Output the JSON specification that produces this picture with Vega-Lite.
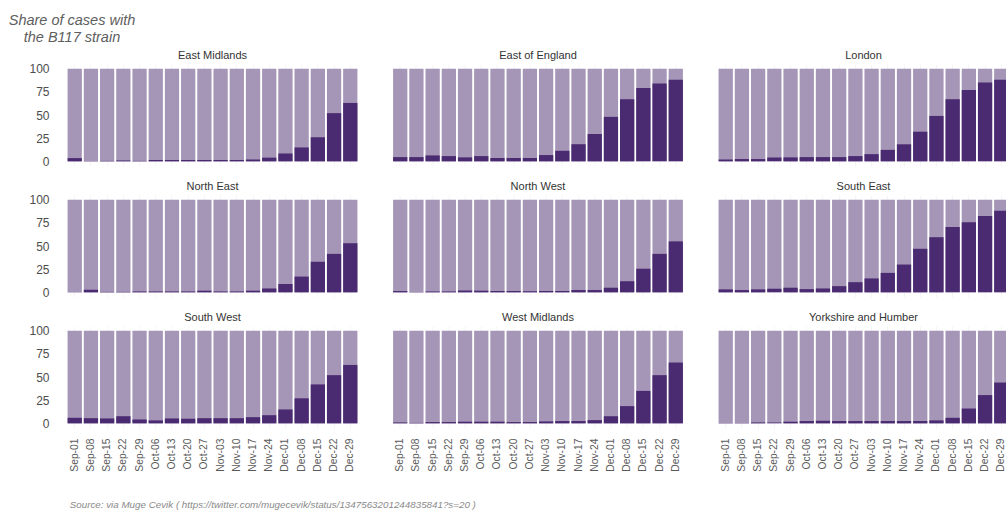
{
  "$schema": "https://vega.github.io/schema/vega-lite/v6.json",
  "padding": {"left": 8, "top": 12, "right": 0, "bottom": 0},
  "background": "white",
  "config": {
    "font": "Liberation Sans",
    "view": {"stroke": null},
    "axis": {"domain": false, "ticks": false, "title": null, "labelFont": "Liberation Sans", "labelColor": "#4d4d4d"},
    "header": {"labelFont": "Liberation Sans", "labelFontSize": 11, "labelColor": "#333333", "labelPadding": 3, "title": null}
  },
  "title": {
    "text": "Source: via Muge Cevik ( https://twitter.com/mugecevik/status/1347563201244835841?s=20 )",
    "orient": "bottom", "anchor": "start", "dx": 61, "offset": 29,
    "fontSize": 9.8, "fontStyle": "italic", "fontWeight": "normal", "color": "#8a8a8a", "font": "Liberation Sans"
  },
  "data": {"values": [
    {"region":"East Midlands","week":"Sep-01","share":3.5},{"region":"East Midlands","week":"Sep-08","share":0.3},{"region":"East Midlands","week":"Sep-15","share":0.5},{"region":"East Midlands","week":"Sep-22","share":1},{"region":"East Midlands","week":"Sep-29","share":0.5},{"region":"East Midlands","week":"Oct-06","share":1.5},{"region":"East Midlands","week":"Oct-13","share":1.5},{"region":"East Midlands","week":"Oct-20","share":1.5},{"region":"East Midlands","week":"Oct-27","share":1.5},{"region":"East Midlands","week":"Nov-03","share":1.5},{"region":"East Midlands","week":"Nov-10","share":1.5},{"region":"East Midlands","week":"Nov-17","share":2},{"region":"East Midlands","week":"Nov-24","share":4},{"region":"East Midlands","week":"Dec-01","share":8.5},{"region":"East Midlands","week":"Dec-08","share":15},{"region":"East Midlands","week":"Dec-15","share":26},{"region":"East Midlands","week":"Dec-22","share":52},{"region":"East Midlands","week":"Dec-29","share":63},
    {"region":"East of England","week":"Sep-01","share":4.6},{"region":"East of England","week":"Sep-08","share":4.6},{"region":"East of England","week":"Sep-15","share":6.4},{"region":"East of England","week":"Sep-22","share":5.7},{"region":"East of England","week":"Sep-29","share":4.3},{"region":"East of England","week":"Oct-06","share":5.7},{"region":"East of England","week":"Oct-13","share":3.6},{"region":"East of England","week":"Oct-20","share":3.6},{"region":"East of England","week":"Oct-27","share":3.6},{"region":"East of England","week":"Nov-03","share":6.8},{"region":"East of England","week":"Nov-10","share":11.4},{"region":"East of England","week":"Nov-17","share":18.5},{"region":"East of England","week":"Nov-24","share":29.5},{"region":"East of England","week":"Dec-01","share":48},{"region":"East of England","week":"Dec-08","share":67},{"region":"East of England","week":"Dec-15","share":79},{"region":"East of England","week":"Dec-22","share":84},{"region":"East of England","week":"Dec-29","share":88},
    {"region":"London","week":"Sep-01","share":2},{"region":"London","week":"Sep-08","share":2.5},{"region":"London","week":"Sep-15","share":2.5},{"region":"London","week":"Sep-22","share":4.3},{"region":"London","week":"Sep-29","share":4.3},{"region":"London","week":"Oct-06","share":4.6},{"region":"London","week":"Oct-13","share":4.6},{"region":"London","week":"Oct-20","share":4.6},{"region":"London","week":"Oct-27","share":5.7},{"region":"London","week":"Nov-03","share":7.8},{"region":"London","week":"Nov-10","share":12.4},{"region":"London","week":"Nov-17","share":18.4},{"region":"London","week":"Nov-24","share":32},{"region":"London","week":"Dec-01","share":49},{"region":"London","week":"Dec-08","share":67},{"region":"London","week":"Dec-15","share":77},{"region":"London","week":"Dec-22","share":85},{"region":"London","week":"Dec-29","share":88},
    {"region":"North East","week":"Sep-01","share":0.2},{"region":"North East","week":"Sep-08","share":2.8},{"region":"North East","week":"Sep-15","share":0.5},{"region":"North East","week":"Sep-22","share":0.5},{"region":"North East","week":"Sep-29","share":1},{"region":"North East","week":"Oct-06","share":1},{"region":"North East","week":"Oct-13","share":1},{"region":"North East","week":"Oct-20","share":1},{"region":"North East","week":"Oct-27","share":1.8},{"region":"North East","week":"Nov-03","share":1},{"region":"North East","week":"Nov-10","share":1},{"region":"North East","week":"Nov-17","share":1.8},{"region":"North East","week":"Nov-24","share":4.2},{"region":"North East","week":"Dec-01","share":9},{"region":"North East","week":"Dec-08","share":17},{"region":"North East","week":"Dec-15","share":33},{"region":"North East","week":"Dec-22","share":41.5},{"region":"North East","week":"Dec-29","share":53},
    {"region":"North West","week":"Sep-01","share":1.4},{"region":"North West","week":"Sep-08","share":0.3},{"region":"North West","week":"Sep-15","share":1},{"region":"North West","week":"Sep-22","share":1},{"region":"North West","week":"Sep-29","share":2},{"region":"North West","week":"Oct-06","share":1.8},{"region":"North West","week":"Oct-13","share":1.5},{"region":"North West","week":"Oct-20","share":1.5},{"region":"North West","week":"Oct-27","share":1.2},{"region":"North West","week":"Nov-03","share":1.5},{"region":"North West","week":"Nov-10","share":1.5},{"region":"North West","week":"Nov-17","share":2.5},{"region":"North West","week":"Nov-24","share":2.5},{"region":"North West","week":"Dec-01","share":5},{"region":"North West","week":"Dec-08","share":12},{"region":"North West","week":"Dec-15","share":25.5},{"region":"North West","week":"Dec-22","share":41.5},{"region":"North West","week":"Dec-29","share":55},
    {"region":"South East","week":"Sep-01","share":3.2},{"region":"South East","week":"Sep-08","share":2.5},{"region":"South East","week":"Sep-15","share":3.2},{"region":"South East","week":"Sep-22","share":3.9},{"region":"South East","week":"Sep-29","share":5},{"region":"South East","week":"Oct-06","share":3.5},{"region":"South East","week":"Oct-13","share":4.2},{"region":"South East","week":"Oct-20","share":6.7},{"region":"South East","week":"Oct-27","share":11},{"region":"South East","week":"Nov-03","share":15},{"region":"South East","week":"Nov-10","share":21},{"region":"South East","week":"Nov-17","share":30},{"region":"South East","week":"Nov-24","share":47},{"region":"South East","week":"Dec-01","share":59.5},{"region":"South East","week":"Dec-08","share":70.5},{"region":"South East","week":"Dec-15","share":75.5},{"region":"South East","week":"Dec-22","share":82.3},{"region":"South East","week":"Dec-29","share":88},
    {"region":"South West","week":"Sep-01","share":6},{"region":"South West","week":"Sep-08","share":5.6},{"region":"South West","week":"Sep-15","share":5.3},{"region":"South West","week":"Sep-22","share":7.7},{"region":"South West","week":"Sep-29","share":4.2},{"region":"South West","week":"Oct-06","share":3.2},{"region":"South West","week":"Oct-13","share":5.3},{"region":"South West","week":"Oct-20","share":5},{"region":"South West","week":"Oct-27","share":5.6},{"region":"South West","week":"Nov-03","share":5.6},{"region":"South West","week":"Nov-10","share":5.6},{"region":"South West","week":"Nov-17","share":6.7},{"region":"South West","week":"Nov-24","share":8.8},{"region":"South West","week":"Dec-01","share":15},{"region":"South West","week":"Dec-08","share":27},{"region":"South West","week":"Dec-15","share":42},{"region":"South West","week":"Dec-22","share":52},{"region":"South West","week":"Dec-29","share":63},
    {"region":"West Midlands","week":"Sep-01","share":1},{"region":"West Midlands","week":"Sep-08","share":0.5},{"region":"West Midlands","week":"Sep-15","share":1.4},{"region":"West Midlands","week":"Sep-22","share":1.4},{"region":"West Midlands","week":"Sep-29","share":1.8},{"region":"West Midlands","week":"Oct-06","share":1.8},{"region":"West Midlands","week":"Oct-13","share":1.8},{"region":"West Midlands","week":"Oct-20","share":1.4},{"region":"West Midlands","week":"Oct-27","share":1.4},{"region":"West Midlands","week":"Nov-03","share":2.1},{"region":"West Midlands","week":"Nov-10","share":2.5},{"region":"West Midlands","week":"Nov-17","share":2.5},{"region":"West Midlands","week":"Nov-24","share":3.5},{"region":"West Midlands","week":"Dec-01","share":7.7},{"region":"West Midlands","week":"Dec-08","share":18.6},{"region":"West Midlands","week":"Dec-15","share":35},{"region":"West Midlands","week":"Dec-22","share":52},{"region":"West Midlands","week":"Dec-29","share":65.6},
    {"region":"Yorkshire and Humber","week":"Sep-01","share":0.3},{"region":"Yorkshire and Humber","week":"Sep-08","share":0.3},{"region":"Yorkshire and Humber","week":"Sep-15","share":1},{"region":"Yorkshire and Humber","week":"Sep-22","share":1},{"region":"Yorkshire and Humber","week":"Sep-29","share":1.8},{"region":"Yorkshire and Humber","week":"Oct-06","share":2.5},{"region":"Yorkshire and Humber","week":"Oct-13","share":2.8},{"region":"Yorkshire and Humber","week":"Oct-20","share":2.5},{"region":"Yorkshire and Humber","week":"Oct-27","share":2.5},{"region":"Yorkshire and Humber","week":"Nov-03","share":2.5},{"region":"Yorkshire and Humber","week":"Nov-10","share":2.5},{"region":"Yorkshire and Humber","week":"Nov-17","share":2.5},{"region":"Yorkshire and Humber","week":"Nov-24","share":2.5},{"region":"Yorkshire and Humber","week":"Dec-01","share":3.2},{"region":"Yorkshire and Humber","week":"Dec-08","share":6},{"region":"Yorkshire and Humber","week":"Dec-15","share":16},{"region":"Yorkshire and Humber","week":"Dec-22","share":30.5},{"region":"Yorkshire and Humber","week":"Dec-29","share":44}
  ]},
  "vconcat": [
    {
      "title": {
        "text": ["Share of cases with", "the B117 strain"],
        "anchor": "start", "align": "center", "dx": 43, "offset": 5,
        "fontSize": 14.5, "lineHeight": 17, "fontStyle": "italic", "fontWeight": "normal", "color": "#5e5e5e", "font": "Liberation Sans"
      },
      "facet": {"field": "region", "type": "nominal", "title": null},
      "columns": 3,
      "spacing": {"row": 15, "column": 6.5},
      "spec": {
        "width": 319,
        "height": 102,
        "encoding": {
          "x": {
            "field": "week", "type": "ordinal",
            "sort": ["Sep-01","Sep-08","Sep-15","Sep-22","Sep-29","Oct-06","Oct-13","Oct-20","Oct-27","Nov-03","Nov-10","Nov-17","Nov-24","Dec-01","Dec-08","Dec-15","Dec-22","Dec-29"],
            "scale": {"paddingInner": 0.12, "paddingOuter": 0.9},
            "axis": {"labelAngle": -90, "labelFontSize": 10.3, "labelPadding": 10, "labelColor": "#5a5a5a", "grid": true, "bandPosition": 0.5, "gridColor": "#eeeeee", "gridWidth": 0.6}
          }
        },
        "layer": [
          {
            "mark": {"type": "bar", "color": "#a595b7"},
            "encoding": {
              "y": {"datum": 100, "type": "quantitative", "stack": null,
                    "scale": {"domain": [-5, 105], "nice": false, "zero": false},
                    "axis": {"values": [0, 25, 50, 75, 100], "labelOverlap": false, "labelFontSize": 12, "labelPadding": 4, "gridColor": "#e6e6e6", "gridWidth": 0.8}}
            }
          },
          {
            "mark": {"type": "bar", "color": "#4a2a70"},
            "encoding": {
              "y": {"field": "share", "type": "quantitative", "stack": null,
                    "scale": {"domain": [-5, 105], "nice": false, "zero": false},
                    "axis": {"values": [0, 25, 50, 75, 100], "labelOverlap": false, "labelFontSize": 12, "labelPadding": 4, "gridColor": "#e6e6e6", "gridWidth": 0.8}}
            }
          }
        ]
      }
    }
  ]
}
